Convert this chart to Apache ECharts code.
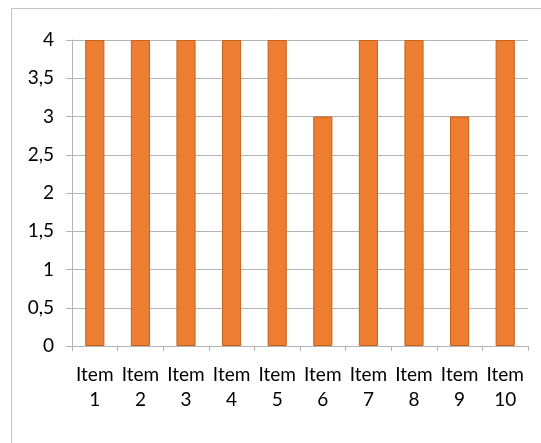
<!DOCTYPE html>
<html>
<head>
<meta charset="utf-8">
<script src="https://cdn.jsdelivr.net/npm/echarts@6/dist/echarts.min.js"></script>
<style>
html,body{margin:0;padding:0;background:#fff;}
#chart{width:541px;height:443px;}
</style>
</head>
<body>
<div id="chart"></div>
<script>
const categories = ['Item 1','Item 2','Item 3','Item 4','Item 5','Item 6','Item 7','Item 8','Item 9','Item 10'];
const values = [4, 4, 4, 4, 4, 3, 4, 4, 3, 4];

const chart = echarts.init(document.getElementById('chart'), null, {renderer: 'canvas'});
const gray = '#b4b4b4';
const font = 'Lato, "Open Sans", sans-serif';
chart.setOption({
  animation: false,
  graphic: [{
    type: 'rect',
    shape: {x: 11.5, y: 8.5, width: 700, height: 600},
    style: {fill: 'none', stroke: '#c4c4c4', lineWidth: 1},
    silent: true
  }],
  grid: {left: 72, right: 13, top: 40, bottom: 97, containLabel: false},
  xAxis: {
    type: 'category',
    data: categories,
    axisLine: {lineStyle: {color: gray, width: 1}},
    axisTick: {show: true, length: 5, lineStyle: {color: gray}},
    axisLabel: {
      color: '#000', fontSize: 19, fontFamily: font, margin: 16, lineHeight: 25,
      interval: 0,
      formatter: v => v.replace(' ', '\n')
    },
    splitLine: {show: false}
  },
  yAxis: {
    type: 'value',
    min: 0, max: 4, interval: 0.5,
    axisLine: {show: true, lineStyle: {color: gray}},
    axisTick: {show: true, length: 6, lineStyle: {color: gray}},
    axisLabel: {
      color: '#000', fontSize: 19, fontFamily: font, margin: 18,
      formatter: v => String(v).replace('.', ',')
    },
    splitLine: {show: true, lineStyle: {color: gray}}
  },
  series: [{
    type: 'bar',
    data: values,
    barWidth: '42%',
    itemStyle: {color: '#ED7D31', borderColor: '#C4621F', borderWidth: 1}
  }]
});
</script>
</body>
</html>
